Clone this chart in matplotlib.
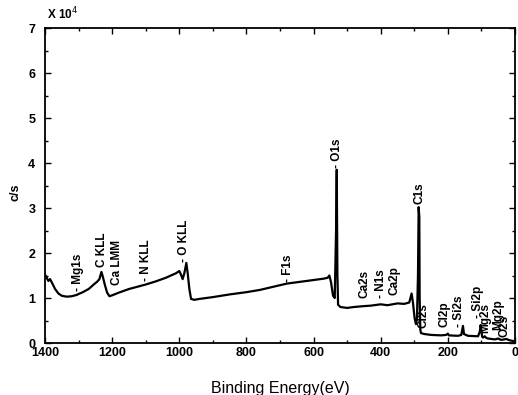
import matplotlib
matplotlib.use("Agg")
import matplotlib.pyplot as plt
from matplotlib.ticker import MultipleLocator

plt.rcParams["font.family"] = ["Liberation Sans", "DejaVu Sans"]

# survey spectrum, binding energy (eV) vs counts (x 10^4 c/s)
energy = [1400, 1395, 1390, 1385, 1380, 1370, 1360, 1350, 1335, 1320, 1305, 1300,
          1290, 1270, 1255, 1245, 1238, 1232, 1228, 1222, 1215, 1208, 1200, 1180,
          1150, 1120, 1100, 1070, 1040, 1010, 1000, 995, 990, 985, 979, 975, 970,
          965, 955, 940, 900, 850, 800, 760, 720, 680, 640, 600, 570, 558, 553,
          548, 542, 537, 533, 531, 529, 527, 520, 500, 480, 450, 430, 400, 380,
          350, 330, 315, 308, 304, 299, 295, 292, 289, 287, 285, 284, 282, 280,
          270, 250, 220, 205, 200, 197, 170, 160, 155, 152, 140, 110, 105, 102,
          98, 95, 90, 85, 80, 60, 50, 45, 40, 25, 20, 10, 0]
counts = [1.52, 1.45, 1.38, 1.42, 1.35, 1.20, 1.10, 1.05, 1.03, 1.04, 1.07, 1.09,
          1.12, 1.20, 1.30, 1.36, 1.42, 1.58, 1.48, 1.30, 1.12, 1.04, 1.06, 1.12,
          1.20, 1.26, 1.30, 1.37, 1.45, 1.55, 1.60, 1.52, 1.42, 1.55, 1.78, 1.55, 1.20,
          0.98, 0.96, 0.98, 1.02, 1.08, 1.13, 1.18, 1.25, 1.32, 1.36, 1.40, 1.43, 1.45, 1.50,
          1.35, 1.05, 1.00, 2.50, 3.85, 1.50, 0.85, 0.80, 0.78, 0.80, 0.82, 0.83, 0.86, 0.84,
          0.88, 0.87, 0.90, 1.10, 0.90, 0.55, 0.42, 0.55, 1.50, 3.02, 2.80, 1.00, 0.30, 0.22,
          0.20, 0.18, 0.17, 0.18, 0.21, 0.17, 0.16, 0.18, 0.38, 0.20, 0.16, 0.15, 0.25, 0.40,
          0.14, 0.12, 0.15, 0.11, 0.10, 0.08, 0.10, 0.08, 0.07, 0.09, 0.07, 0.05, 0.04]

# peak labels: text, position, baseline height
peak_names = ["- Mg1s", "C KLL", "Ca LMM", "- N KLL", "- O KLL", "- F1s", "- O1s",
              "C1s", "Ca2s", "- N1s", "Ca2p", "Cl2s", "Cl2p", "- Si2s", "- Si2p",
              "Mg2s", "Mg2p", "O2s"]
peak_x = [1302, 1231, 1187, 1100, 987, 677, 531, 285, 447, 400, 358, 274, 209,
          167, 110, 89, 51, 30]
peak_y = [1.15, 1.69, 1.29, 1.38, 1.80, 1.36, 3.90, 3.10, 1.00, 1.00, 1.07, 0.33,
          0.36, 0.36, 0.55, 0.22, 0.29, 0.13]

fig = plt.figure(figsize=(5.18, 3.95), dpi=100)
ax = fig.add_axes([0.0869, 0.1316, 0.9073, 0.7975])

ax.plot(energy, counts, color="black", lw=1.6)

for name, x, y in zip(peak_names, peak_x, peak_y):
    ax.text(x, y, name, rotation=90, ha="center", va="bottom", fontsize=8.5,
            fontweight="bold")

ax.set_xlim(1400, 0)
ax.set_ylim(0, 7)
ax.xaxis.set_major_locator(MultipleLocator(200))
ax.xaxis.set_minor_locator(MultipleLocator(100))
ax.yaxis.set_major_locator(MultipleLocator(1))
ax.yaxis.set_minor_locator(MultipleLocator(0.5))
ax.tick_params(which="both", direction="in", top=True, right=True, width=1.0)
ax.tick_params(which="major", length=4)
ax.tick_params(which="minor", length=2)
ax.tick_params(axis="x", labelsize=9, pad=3)
ax.tick_params(axis="y", labelsize=9, pad=7)
for lbl in ax.get_xticklabels() + ax.get_yticklabels():
    lbl.set_fontweight("bold")
for sp in ax.spines.values():
    sp.set_linewidth(1.3)

ax.set_xlabel("Binding Energy(eV)", fontsize=11.5, labelpad=16)
ax.set_ylabel("c/s", fontsize=9, fontweight="bold")
ax.yaxis.set_label_coords(-0.05, 0.48)
fig.text(0.091, 0.95, r"X 10$^4$", fontsize=8.5, fontweight="bold")

fig.savefig("out.png", dpi=100)
